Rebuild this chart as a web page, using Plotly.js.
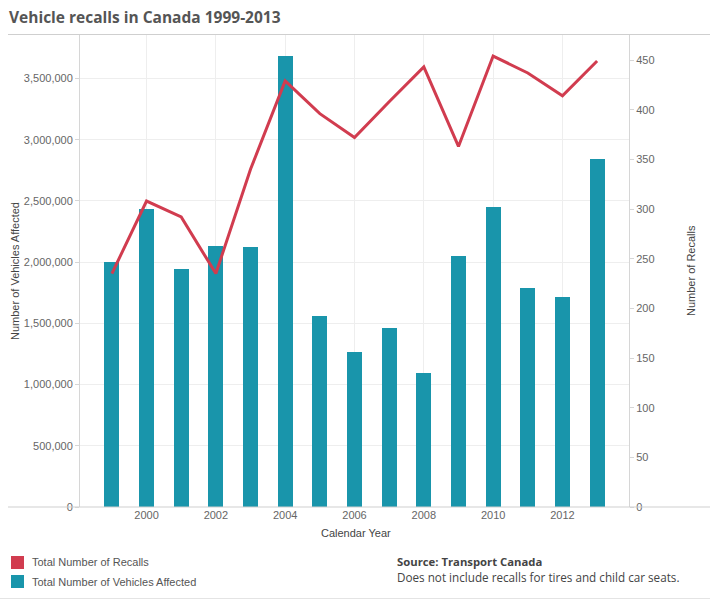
<!DOCTYPE html>
<html>
<head>
<meta charset="utf-8">
<script src="https://cdn.plot.ly/plotly-3.0.1.min.js"></script>
<style>
  html, body { margin: 0; padding: 0; background: #ffffff; }
  #chart { width: 710px; height: 601px; }
</style>
</head>
<body>
<div id="chart"></div>
<script>
// Values
const years = [1999, 2000, 2001, 2002, 2003, 2004, 2005, 2006, 2007, 2008, 2009, 2010, 2011, 2012, 2013];
const vehiclesAffected = [2005000, 2435000, 1944000, 2132000, 2124000, 3685000, 1560000, 1266000, 1462000, 1095000, 2050000, 2451000, 1789000, 1716000, 2843000];
const recalls = [235, 308, 292, 235, 340, 429, 396, 372, 408, 443, 363, 454, 437, 414, 449];
const yearTicks = [2000, 2002, 2004, 2006, 2008, 2010, 2012];

const barColor = '#1995ab';
const lineColor = '#d13c4f';
const textColor = '#555555';
const tickFont = { family: 'Liberation Sans, Arial, sans-serif', size: 11, color: '#666666' };
const labelFont = { family: 'Liberation Sans, Arial, sans-serif', size: 11, color: '#444444' };

const bars = {
    x: years,
    y: vehiclesAffected,
    type: 'bar',
    name: 'Total Number of Vehicles Affected',
    width: 0.43,
    marker: { color: barColor },
    yaxis: 'y',
    hovertemplate: '%{x}: %{y:,}<extra></extra>'
};

const line = {
    x: years,
    y: recalls,
    type: 'scatter',
    mode: 'lines',
    name: 'Total Number of Recalls',
    line: { color: lineColor, width: 3 },
    yaxis: 'y2',
    hovertemplate: '%{x}: %{y}<extra></extra>'
};

// paper coords helpers: plot area is 80..629 px wide, 35..507 px tall
const px = x => (x - 80) / 549;
const py = y => (507 - y) / 472;

const shapes = [
    // title rule and bottom rule
    { type: 'line', xref: 'paper', yref: 'paper', x0: px(8), x1: px(710), y0: py(34.5), y1: py(34.5), line: { color: '#cfcfcf', width: 1 } },
    { type: 'line', xref: 'paper', yref: 'paper', x0: px(8), x1: px(710), y0: 0, y1: 0, line: { color: '#cfcfcf', width: 1 } },
    { type: 'line', xref: 'paper', yref: 'paper', x0: px(0), x1: px(710), y0: py(598.5), y1: py(598.5), line: { color: '#e4e4e4', width: 1 } },
    // legend swatches
    { type: 'rect', xref: 'paper', yref: 'paper', x0: px(11), x1: px(24), y0: py(556), y1: py(569), fillcolor: lineColor, line: { width: 0 } },
    { type: 'rect', xref: 'paper', yref: 'paper', x0: px(11), x1: px(24), y0: py(575), y1: py(588), fillcolor: barColor, line: { width: 0 } }
];

function note(text, x, y, font, extra) {
    return Object.assign({
        text: text, xref: 'paper', yref: 'paper', x: px(x), y: py(y),
        xanchor: 'left', yanchor: 'middle', showarrow: false, font: font
    }, extra || {});
}

const annotations = [
    note('<b>Vehicle recalls in Canada 1999-2013</b>', 7, 17, { family: 'Open Sans, sans-serif', size: 15.5, color: textColor }),
    note('Number of Vehicles Affected', 15, 271, labelFont, { xanchor: 'center', textangle: -90 }),
    note('Number of Recalls', 691, 271, labelFont, { xanchor: 'center', textangle: -90 }),
    note('Calendar Year', 356, 533, labelFont, { xanchor: 'center' }),
    note('Total Number of Recalls', 30, 562, { family: 'Liberation Sans, Arial, sans-serif', size: 11, color: textColor }),
    note('Total Number of Vehicles Affected', 30, 582, { family: 'Liberation Sans, Arial, sans-serif', size: 11, color: textColor }),
    note('<b>Source: Transport Canada</b>', 395, 561, { family: 'Open Sans, sans-serif', size: 11.3, color: '#444' }),
    note('Does not include recalls for tires and child car seats.', 395, 577, { family: 'Open Sans, sans-serif', size: 11.7, color: '#444' })
];

const layout = {
    width: 710,
    height: 601,
    plot_bgcolor: '#ffffff',
    paper_bgcolor: '#ffffff',
    margin: { l: 80, r: 81, t: 35, b: 94 },
    showlegend: false,
    bargap: 0,
    xaxis: {
        range: [1998.08, 2013.92],
        tickvals: yearTicks,
        ticktext: yearTicks.map(String),
        tickfont: tickFont,
        showgrid: true,
        gridcolor: '#eeeeee',
        zeroline: false,
        showline: false,
        ticks: ''
    },
    yaxis: {
        range: [0, 3856000],
        dtick: 500000,
        tickformat: ',d',
        tickfont: tickFont,
        showgrid: true,
        gridcolor: '#eeeeee',
        zeroline: false,
        showline: true,
        linecolor: '#d6d6d6',
        ticks: 'outside',
        ticklen: 4,
        tickcolor: '#d6d6d6'
    },
    yaxis2: {
        overlaying: 'y',
        side: 'right',
        range: [0, 475.2],
        dtick: 50,
        tickfont: tickFont,
        showgrid: false,
        zeroline: false,
        showline: true,
        linecolor: '#d6d6d6',
        ticks: 'outside',
        ticklen: 4,
        tickcolor: '#d6d6d6'
    },
    shapes: shapes,
    annotations: annotations
};

Plotly.newPlot('chart', [bars, line], layout, { displayModeBar: false, responsive: false });
</script>
</body>
</html>
